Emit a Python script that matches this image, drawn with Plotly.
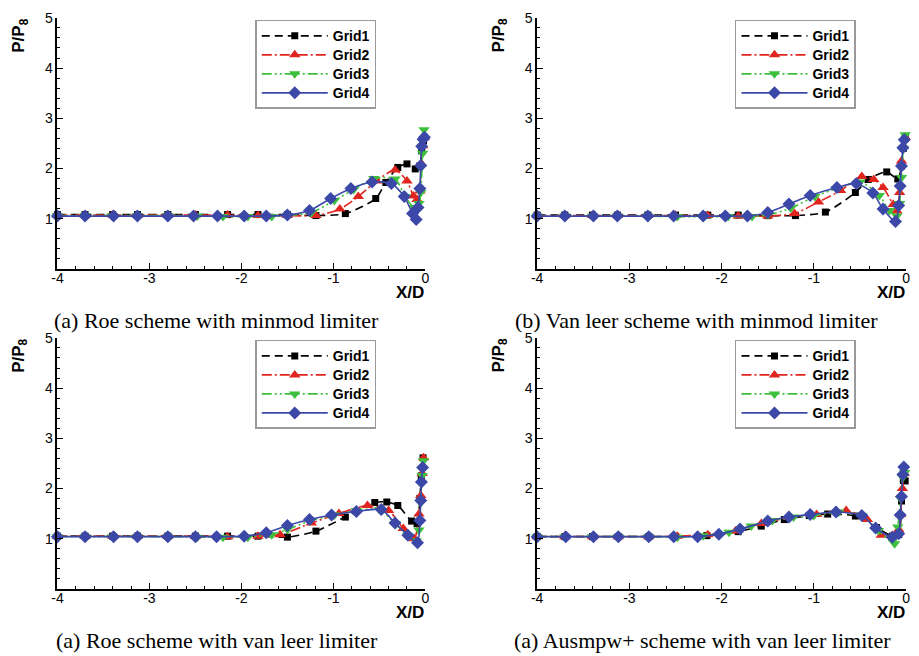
import plotly.graph_objects as go

# ---------------- data ----------------
GRIDS = ["Grid1", "Grid2", "Grid3", "Grid4"]
X_TICKS = [-4, -3, -2, -1, 0]
X_TICK_TEXT = ["-4", "-3", "-2", "-1", "0"]
Y_TICKS = [1, 2, 3, 4, 5]
Y_TICK_TEXT = ["1", "2", "3", "4", "5"]
CAPTIONS = ["(a) Roe scheme with minmod limiter",
            "(b) Van leer scheme with minmod limiter",
            "(a) Roe scheme with van leer limiter",
            "(a) Ausmpw+ scheme with van leer limiter"]

# Panel 1: Roe / minmod
P1_G1_X = [-4, -3.7, -3.4, -3.13, -2.8, -2.5, -2.15, -1.82, -1.5, -1.19, -0.87, -0.54, -0.43, -0.30, -0.20, -0.11, -0.06, -0.04, -0.02, -0.01]
P1_G1_Y = [1.08, 1.08, 1.08, 1.08, 1.08, 1.08, 1.08, 1.08, 1.08, 1.06, 1.10, 1.40, 1.72, 2.02, 2.09, 1.99, 2.05, 2.35, 2.55, 2.62]
P1_G2_X = [-4, -3.7, -3.4, -3.13, -2.8, -2.5, -2.15, -1.82, -1.5, -1.19, -0.93, -0.73, -0.53, -0.33, -0.20, -0.13, -0.09, -0.06, -0.045, -0.03, -0.01]
P1_G2_Y = [1.07, 1.07, 1.07, 1.07, 1.07, 1.07, 1.07, 1.06, 1.06, 1.06, 1.19, 1.44, 1.75, 1.97, 1.75, 1.45, 1.38, 1.55, 2.10, 2.45, 2.62]
P1_G3_X = [-4, -3.7, -3.4, -3.13, -2.8, -2.48, -2.2, -1.93, -1.67, -1.5, -1.24, -0.99, -0.78, -0.56, -0.33, -0.22, -0.12, -0.07, -0.05, -0.03, -0.015]
P1_G3_Y = [1.06, 1.06, 1.06, 1.06, 1.06, 1.05, 1.04, 1.04, 1.04, 1.06, 1.12, 1.36, 1.58, 1.80, 1.79, 1.44, 1.22, 1.30, 1.52, 2.30, 2.77]
P1_G4_X = [-4, -3.7, -3.39, -3.13, -2.8, -2.52, -2.26, -1.97, -1.73, -1.50, -1.26, -1.03, -0.81, -0.58, -0.37, -0.23, -0.14, -0.10, -0.08, -0.06, -0.05, -0.04, -0.025, -0.01]
P1_G4_Y = [1.05, 1.05, 1.05, 1.05, 1.05, 1.05, 1.05, 1.05, 1.05, 1.07, 1.16, 1.40, 1.60, 1.73, 1.70, 1.44, 1.10, 0.98, 1.22, 1.60, 2.06, 2.44, 2.58, 2.62]

# Panel 2: Van Leer / minmod
P2_G1_X = [-4, -3.7, -3.4, -3.13, -2.8, -2.5, -2.15, -1.82, -1.5, -1.20, -0.875, -0.55, -0.41, -0.21, -0.09, -0.05, -0.03, -0.01]
P2_G1_Y = [1.07, 1.07, 1.07, 1.07, 1.07, 1.07, 1.07, 1.07, 1.06, 1.06, 1.13, 1.52, 1.78, 1.93, 1.79, 2.05, 2.40, 2.60]
P2_G2_X = [-4, -3.7, -3.4, -3.13, -2.8, -2.5, -2.15, -1.82, -1.5, -1.21, -0.95, -0.71, -0.48, -0.35, -0.25, -0.14, -0.10, -0.07, -0.05, -0.03, -0.01]
P2_G2_Y = [1.06, 1.06, 1.06, 1.06, 1.06, 1.06, 1.06, 1.05, 1.05, 1.10, 1.33, 1.56, 1.84, 1.78, 1.62, 1.28, 1.15, 1.52, 2.15, 2.45, 2.62]
P2_G3_X = [-4, -3.7, -3.4, -3.13, -2.8, -2.48, -2.2, -1.93, -1.67, -1.5, -1.25, -0.99, -0.75, -0.50, -0.29, -0.18, -0.10, -0.07, -0.05, -0.03, -0.01]
P2_G3_Y = [1.05, 1.05, 1.05, 1.05, 1.05, 1.04, 1.04, 1.04, 1.04, 1.07, 1.21, 1.44, 1.60, 1.73, 1.46, 1.16, 1.05, 1.30, 1.82, 2.40, 2.67]
P2_G4_X = [-4, -3.7, -3.39, -3.13, -2.8, -2.52, -2.20, -1.96, -1.72, -1.50, -1.27, -1.04, -0.75, -0.54, -0.36, -0.25, -0.115, -0.08, -0.065, -0.05, -0.035, -0.02]
P2_G4_Y = [1.05, 1.05, 1.05, 1.05, 1.05, 1.05, 1.05, 1.05, 1.05, 1.12, 1.29, 1.46, 1.62, 1.70, 1.51, 1.19, 0.94, 1.26, 1.65, 2.05, 2.41, 2.57]

# Panel 3: Roe / van Leer
P3_G1_X = [-4, -3.7, -3.4, -3.13, -2.8, -2.5, -2.15, -1.82, -1.50, -1.19, -0.87, -0.55, -0.42, -0.30, -0.15, -0.09, -0.06, -0.045, -0.025]
P3_G1_Y = [1.05, 1.05, 1.05, 1.05, 1.05, 1.05, 1.05, 1.05, 1.03, 1.15, 1.43, 1.72, 1.73, 1.66, 1.35, 1.30, 1.80, 2.25, 2.61]
P3_G2_X = [-4, -3.7, -3.4, -3.13, -2.8, -2.5, -2.15, -1.82, -1.58, -1.24, -0.94, -0.63, -0.40, -0.24, -0.12, -0.07, -0.05, -0.035, -0.02]
P3_G2_Y = [1.05, 1.05, 1.05, 1.05, 1.05, 1.05, 1.04, 1.05, 1.08, 1.31, 1.50, 1.66, 1.56, 1.20, 1.00, 1.49, 1.86, 2.30, 2.61]
P3_G3_X = [-4, -3.7, -3.4, -3.13, -2.8, -2.48, -2.2, -1.93, -1.67, -1.5, -1.25, -0.99, -0.75, -0.50, -0.33, -0.19, -0.10, -0.07, -0.05, -0.035, -0.02]
P3_G3_Y = [1.04, 1.04, 1.04, 1.04, 1.04, 1.03, 1.03, 1.03, 1.08, 1.18, 1.36, 1.47, 1.56, 1.58, 1.30, 1.06, 0.96, 1.17, 1.72, 2.26, 2.55]
P3_G4_X = [-4, -3.7, -3.39, -3.13, -2.8, -2.50, -2.27, -1.97, -1.73, -1.50, -1.26, -1.02, -0.75, -0.48, -0.33, -0.19, -0.086, -0.06, -0.05, -0.043, -0.03]
P3_G4_Y = [1.04, 1.04, 1.04, 1.04, 1.04, 1.04, 1.04, 1.05, 1.12, 1.26, 1.38, 1.47, 1.54, 1.58, 1.31, 1.07, 0.92, 1.36, 1.76, 2.13, 2.42]

# Panel 4: AUSMPW+ / van Leer
P4_G1_X = [-4, -3.7, -3.4, -3.12, -2.79, -2.5, -2.16, -1.82, -1.57, -1.32, -1.05, -0.85, -0.55, -0.32, -0.15, -0.08, -0.05, -0.03, -0.01]
P4_G1_Y = [1.04, 1.04, 1.04, 1.04, 1.04, 1.04, 1.06, 1.14, 1.25, 1.38, 1.46, 1.49, 1.45, 1.22, 1.05, 1.08, 1.75, 2.16, 2.15]
P4_G2_X = [-4, -3.7, -3.4, -3.12, -2.79, -2.48, -2.15, -1.85, -1.57, -1.27, -0.97, -0.65, -0.42, -0.27, -0.15, -0.08, -0.06, -0.04, -0.02]
P4_G2_Y = [1.04, 1.04, 1.04, 1.04, 1.04, 1.05, 1.08, 1.15, 1.30, 1.42, 1.48, 1.56, 1.38, 1.07, 1.06, 1.18, 1.48, 2.00, 2.30]
P4_G3_X = [-4, -3.7, -3.4, -3.12, -2.79, -2.48, -2.2, -1.92, -1.68, -1.45, -1.22, -1.0, -0.73, -0.48, -0.30, -0.125, -0.09, -0.06, -0.035, -0.015]
P4_G3_Y = [1.04, 1.04, 1.04, 1.04, 1.04, 1.03, 1.06, 1.13, 1.25, 1.36, 1.43, 1.46, 1.53, 1.46, 1.16, 0.90, 1.23, 1.80, 2.22, 2.32]
P4_G4_X = [-4, -3.69, -3.39, -3.12, -2.79, -2.52, -2.26, -2.03, -1.80, -1.50, -1.27, -1.04, -0.76, -0.48, -0.33, -0.15, -0.08, -0.064, -0.05, -0.035, -0.025]
P4_G4_Y = [1.04, 1.04, 1.04, 1.04, 1.04, 1.04, 1.04, 1.09, 1.19, 1.35, 1.43, 1.48, 1.53, 1.46, 1.21, 1.03, 1.10, 1.47, 1.84, 2.28, 2.43]

PANELS = [
    [(P1_G1_X, P1_G1_Y), (P1_G2_X, P1_G2_Y), (P1_G3_X, P1_G3_Y), (P1_G4_X, P1_G4_Y)],
    [(P2_G1_X, P2_G1_Y), (P2_G2_X, P2_G2_Y), (P2_G3_X, P2_G3_Y), (P2_G4_X, P2_G4_Y)],
    [(P3_G1_X, P3_G1_Y), (P3_G2_X, P3_G2_Y), (P3_G3_X, P3_G3_Y), (P3_G4_X, P3_G4_Y)],
    [(P4_G1_X, P4_G1_Y), (P4_G2_X, P4_G2_Y), (P4_G3_X, P4_G3_Y), (P4_G4_X, P4_G4_Y)],
]

# ---------------- styles ----------------
W, H = 919, 656
COLORS = ["#000000", "#e0241e", "#3cc03c", "#3c48a8"]
DASHES = ["8px,5px", "10px,3px,2px,3px", "10px,3px,2px,3px,2px,3px", "solid"]
SYMBOLS = ["square", "triangle-up", "triangle-down", "diamond"]
MSIZES = [7, 10, 10, 10]
FONT = "Arial, Liberation Sans, sans-serif"

# panel boxes in pixels: (left, right, top, bottom)
BOXES = [(52, 424, 10, 264), (537, 910, 10, 264), (52, 424, 334, 588), (537, 910, 334, 588)]
CAP_POS = [(213, 316), (698, 316), (213, 640), (704, 640)]


def px(v):
    return v / W


def py(v):
    return 1 - v / H


fig = go.Figure()
for p, series in enumerate(PANELS):
    sfx = "" if p == 0 else str(p + 1)
    for g, (xs, ys) in enumerate(series):
        fig.add_trace(go.Scatter(
            x=xs, y=ys, name="<span style='font-size:14px'>" + GRIDS[g] + "</span>",
            mode="lines+markers",
            xaxis="x" + sfx, yaxis="y" + sfx, legend="legend" + sfx,
            line=dict(color=COLORS[g], width=1.6, dash=DASHES[g], shape="spline", smoothing=0.7),
            marker=dict(symbol=SYMBOLS[g], size=MSIZES[g], color=COLORS[g], line=dict(width=0)),
            cliponaxis=False, showlegend=True,
        ))

layout = dict(width=W, height=H, autosize=False, margin=dict(l=0, r=0, t=0, b=0),
              paper_bgcolor="white", plot_bgcolor="white", showlegend=True,
              font=dict(family=FONT, color="black"))
annotations = []
for p, (l, r, t, b) in enumerate(BOXES):
    sfx = "" if p == 0 else str(p + 1)
    common = dict(
        ticks="inside", ticklen=6, tickwidth=1.2, tickcolor="black",
        minor=dict(dtick=0.2, ticks="inside", ticklen=3, tickwidth=1, tickcolor="black", showgrid=False),
        showline=True, linecolor="black", linewidth=1.6, mirror=False,
        showgrid=False, zeroline=False, tickfont=dict(size=14, color="black", family=FONT),
    )
    layout["xaxis" + sfx] = dict(
        domain=[px(l), px(r)], range=[-4, 0], anchor="y" + sfx, ticklabelstandoff=-4,
        tickmode="array", tickvals=X_TICKS, ticktext=X_TICK_TEXT, **common)
    layout["yaxis" + sfx] = dict(
        domain=[py(b), py(t)], range=[0, 5], anchor="x" + sfx,
        tickmode="array", tickvals=Y_TICKS, ticktext=Y_TICK_TEXT, **common)
    layout["legend" + sfx] = dict(
        x=px(l + 200), y=py(t + 2), xanchor="left", yanchor="top",
        bgcolor="white", bordercolor="#9a9a9a", borderwidth=1.5,
        font=dict(size=12, color="black", family=FONT, weight="bold"),
        itemwidth=66, tracegroupgap=0, traceorder="normal",
    )
    # y-axis title (top-left of each panel)
    annotations.append(dict(
        text="<b>P/P<sub>8</sub></b>", textangle=-90, showarrow=False,
        xref="paper", yref="paper", x=px(l - 38), y=py(t - 1), xanchor="center", yanchor="top",
        font=dict(size=17, color="black", family=FONT),
    ))
    # x-axis title (under right end)
    annotations.append(dict(
        text="<b>X/D</b>", showarrow=False, xref="paper", yref="paper",
        x=px(r + 1), y=py(b + 24), xanchor="right", yanchor="middle",
        font=dict(size=17, color="black", family=FONT),
    ))
    cx, cy = CAP_POS[p]
    annotations.append(dict(
        text=CAPTIONS[p], showarrow=False, xref="paper", yref="paper",
        x=px(cx), y=py(cy), xanchor="center", yanchor="middle",
        font=dict(size=22, color="black", family="Liberation Serif, Times New Roman, serif"),
    ))
layout["annotations"] = annotations
fig.update_layout(**layout)
fig.write_html(
    "out.html",
    config={"displayModeBar": False},
    post_script="document.body.style.margin='0px';"
                "document.body.style.overflow='hidden';"
                "document.documentElement.style.overflow='hidden';",
)
